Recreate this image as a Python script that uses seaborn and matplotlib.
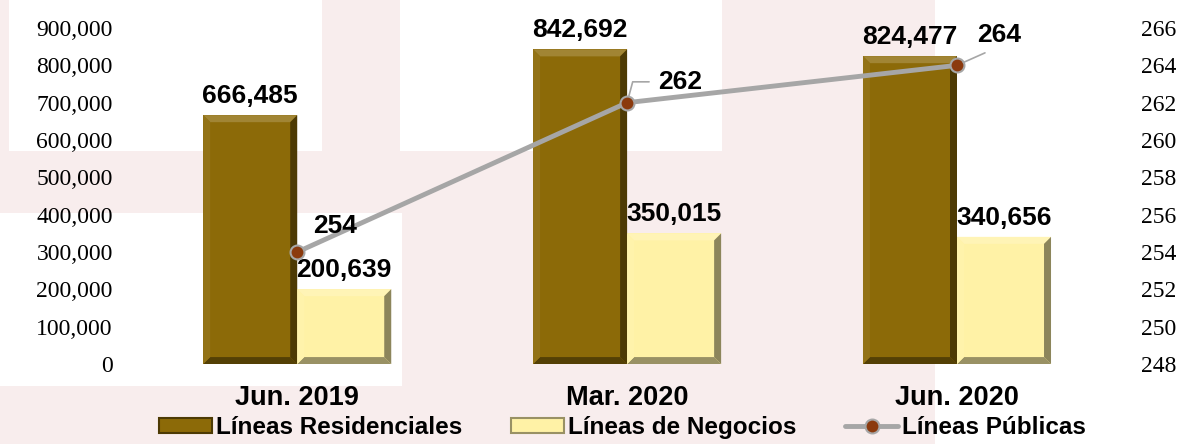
import numpy as np
import pandas as pd
import matplotlib
matplotlib.use("Agg")
import matplotlib.pyplot as plt
import matplotlib.colors as mcolors
import seaborn as sns
from matplotlib.patches import Patch, Polygon, Rectangle
from matplotlib.lines import Line2D
from matplotlib.ticker import FuncFormatter, MultipleLocator

periodos = ["Jun. 2019", "Mar. 2020", "Jun. 2020"]
residenciales = [666485, 842692, 824477]
negocios = [200639, 350015, 340656]
publicas = [254, 262, 264]
series = ["Líneas Residenciales", "Líneas de Negocios", "Líneas Públicas"]

col_res = "#8C6A08"
col_neg = "#FFF2A6"
col_line = "#A6A6A6"
col_marker = "#8B3A0E"

df = pd.DataFrame({
    "periodo": periodos * 2,
    "serie": [series[0]] * 3 + [series[1]] * 3,
    "valor": residenciales + negocios,
})

sns.set_style("white")
plt.rcParams["font.family"] = ["Liberation Sans", "DejaVu Sans"]
plt.rcParams["text.color"] = "black"
plt.rcParams["xtick.color"] = "black"
plt.rcParams["ytick.color"] = "black"

fig = plt.figure(figsize=(11.81, 4.44), dpi=100)
fig.patch.set_facecolor("#F8EDED")

# faint watermark look: white areas over the pink background
for x0, y0, w, h in [(0.008, 0.66, 0.265, 0.34), (0.339, 0.66, 0.272, 0.34),
                     (0.0, 0.13, 0.34, 0.39), (0.792, 0.0, 0.208, 1.0)]:
    fig.add_artist(Rectangle((x0, y0), w, h, transform=fig.transFigure,
                             facecolor="white", edgecolor="none", zorder=-10))

ax = fig.add_axes([0.112, 0.18, 0.838, 0.757])
ax.set_facecolor("none")

sns.barplot(data=df, x="periodo", y="valor", hue="serie",
            palette=[col_res, col_neg], width=0.57, ax=ax,
            legend=False, linewidth=0, saturation=1)

ax.set_xlim(-0.5, 2.5)
ax.set_ylim(0, 900000)
ax.yaxis.set_major_locator(MultipleLocator(100000))
ax.yaxis.set_major_formatter(FuncFormatter(lambda v, p: f"{v:,.0f}"))
ax.set_xlabel("")
ax.set_ylabel("")
for s in ax.spines.values():
    s.set_visible(False)
ax.tick_params(axis="y", length=0, pad=14, labelcolor="black")
ax.tick_params(axis="x", length=0, pad=15, labelcolor="black")
for lab in ax.get_yticklabels():
    lab.set_fontfamily("Liberation Serif")
    lab.set_fontsize(17)
for lab in ax.get_xticklabels():
    lab.set_fontweight("bold")
    lab.set_fontsize(19.5)

# bar value labels
for cont, vals in zip(ax.containers, [residenciales, negocios]):
    ax.bar_label(cont, labels=[f"{v:,.0f}" for v in vals], padding=5,
                 fontsize=19, fontweight="bold", color="black")

# bevel effect derived from each bar's own geometry
inv = ax.transData.inverted()
p0 = inv.transform((0, 0))
p1 = inv.transform((7, 7))
bx, by = p1[0] - p0[0], p1[1] - p0[1]


def shade(c, f):
    r, g, b = mcolors.to_rgb(c)
    if f > 0:
        return (r + (1 - r) * f, g + (1 - g) * f, b + (1 - b) * f)
    return (r * (1 + f), g * (1 + f), b * (1 + f))


for bar in ax.patches:
    x, y = bar.get_x(), bar.get_y()
    w, h = bar.get_width(), bar.get_height()
    if h <= 0:
        continue
    base = bar.get_facecolor()
    faces = [
        ([(x, y + h), (x + w, y + h), (x + w - bx, y + h - by), (x + bx, y + h - by)], shade(base, 0.18)),
        ([(x, y), (x + w, y), (x + w - bx, y + by), (x + bx, y + by)], shade(base, -0.4)),
        ([(x, y), (x, y + h), (x + bx, y + h - by), (x + bx, y + by)], shade(base, 0.06)),
        ([(x + w, y), (x + w, y + h), (x + w - bx, y + h - by), (x + w - bx, y + by)], shade(base, -0.45)),
    ]
    for pts, c in faces:
        ax.add_patch(Polygon(pts, closed=True, facecolor=c, edgecolor="none", zorder=bar.get_zorder() + 0.1))

# secondary axis with the line
ax2 = ax.twinx()
ax2.set_facecolor("none")
sns.lineplot(x=[0, 1, 2], y=publicas, ax=ax2, color=col_line, linewidth=3.5,
             marker="o", markersize=10, markerfacecolor=col_marker,
             markeredgecolor=col_line, markeredgewidth=1.5)
ax2.set_ylim(248, 266)
ax2.yaxis.set_major_locator(MultipleLocator(2))
for s in ax2.spines.values():
    s.set_visible(False)
ax2.tick_params(axis="y", length=0, pad=14, labelcolor="black")
for lab in ax2.get_yticklabels():
    lab.set_fontfamily("Liberation Serif")
    lab.set_fontsize(17)
ax2.set_xlim(-0.5, 2.5)

# line labels
lbl_kw = dict(textcoords="offset points", ha="center", va="center",
              fontsize=19, fontweight="bold", color="black")
ax2.annotate(f"{publicas[0]}", xy=(0, publicas[0]), xytext=(27, 19), **lbl_kw)
ax2.annotate(f"{publicas[1]}", xy=(1, publicas[1]), xytext=(38, 15),
             arrowprops=dict(arrowstyle="-", color=col_line, lw=1.2,
                             connectionstyle="angle,angleA=0,angleB=75,rad=0",
                             relpos=(0, 0.5), shrinkA=4, shrinkB=5),
             **lbl_kw)
ax2.annotate(f"{publicas[2]}", xy=(2, publicas[2]), xytext=(30, 22),
             arrowprops=dict(arrowstyle="-", color=col_line, lw=1.2,
                             relpos=(0.5, 0), shrinkA=5, shrinkB=5),
             **lbl_kw)

# legend
handles = [
    Patch(facecolor=col_res, edgecolor=shade(col_res, -0.45), linewidth=1.5),
    Patch(facecolor=col_neg, edgecolor=shade(col_neg, -0.4), linewidth=1.5),
    Line2D([], [], color=col_line, linewidth=3.5, marker="o", markersize=10,
           markerfacecolor=col_marker, markeredgecolor=col_line, markeredgewidth=1.5),
]
fig.legend(handles, series, loc="lower center", bbox_to_anchor=(0.527, -0.028),
           ncol=3, frameon=False, prop=dict(weight="bold", size=17.5),
           handlelength=2.2, handleheight=0.55, handletextpad=0.15,
           columnspacing=2.0, borderpad=0.2)

fig.savefig("out.png", dpi=100, facecolor=fig.get_facecolor())
